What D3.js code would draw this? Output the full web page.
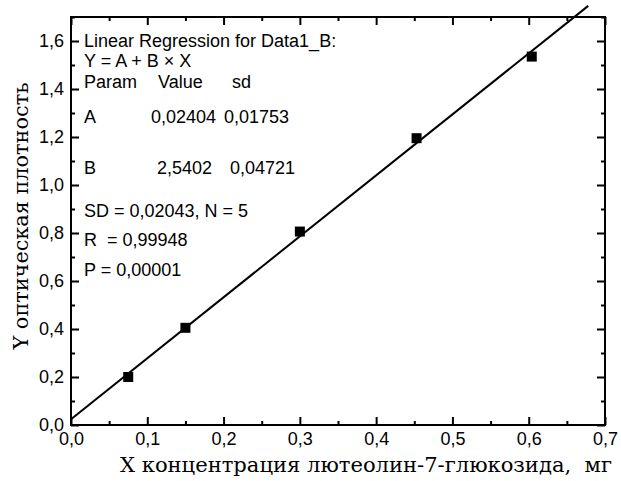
<!DOCTYPE html>
<html>
<head>
<meta charset="utf-8">
<script src="https://cdn.jsdelivr.net/npm/d3@7"></script>
<style>
    body { margin: 0; background: #fff; }
    svg { display: block; }
    text { white-space: pre; }
</style>
</head>
<body>
<div id="chart"></div>
<script>
// ----- data -----
let xValues = [0.075, 0.15, 0.3, 0.453, 0.604];
let yValues = [0.2, 0.405, 0.806, 1.195, 1.535];
let fitA = 0.02404;
let fitB = 2.5402;
let fitRange = [0, 0.678];
let xTicks = [0, 0.1, 0.2, 0.3, 0.4, 0.5, 0.6, 0.7];
let xMinor = [0.05, 0.15, 0.25, 0.35, 0.45, 0.55, 0.65];
let yTicks = [0, 0.2, 0.4, 0.6, 0.8, 1.0, 1.2, 1.4, 1.6];
let yMinor = [0.1, 0.3, 0.5, 0.7, 0.9, 1.1, 1.3, 1.5, 1.7];
let statRows = [
    ["Linear Regression for Data1_B:"],
    ["Y = A + B \u00d7 X"],
    ["Param", "Value", "sd"],
    ["A", "0,02404", "0,01753"],
    ["B", "2,5402", "0,04721"],
    ["SD = 0,02043, N = 5"],
    ["R  = 0,99948"],
    ["P = 0,00001"]
];
let xTitle = "X концентрация лютеолин-7-глюкозида,  мг";
let yTitle = "Y оптическая плотность";

// ----- layout -----
let svgWidth = 621;
let svgHeight = 481;
let margin = { top: 17, right: 16, bottom: 56, left: 71 };
let width = svgWidth - margin.left - margin.right;
let height = svgHeight - margin.top - margin.bottom;

let svg = d3.select("#chart")
    .append("svg")
    .attr("width", svgWidth)
    .attr("height", svgHeight);

let x = d3.scaleLinear().domain([0, 0.7]).range([0, width]);
let y = d3.scaleLinear().domain([0, 1.7]).range([height, 0]);

let fmt = d => d3.format(".1f")(d).replace(".", ",");

let g = svg.append("g")
    .attr("transform", `translate(${margin.left}, ${margin.top})`);

// minor ticks first, then major ticks with labels
function addAxis(axis, tx, ty, values, size, labels) {
    let a = g.append("g")
        .attr("transform", `translate(${tx}, ${ty})`)
        .call(axis.tickValues(values).tickSize(size)
            .tickFormat(labels ? fmt : "").tickPadding(labels ? 6 : 0));
    a.select(".domain").remove();
    a.selectAll("line").attr("stroke", "#000").attr("stroke-width", 2);
    a.selectAll("text")
        .attr("fill", "#000")
        .style("font-family", "'Liberation Sans', Arial, sans-serif")
        .style("font-size", "18px");
    return a;
}

addAxis(d3.axisBottom(x), 0, height, xMinor, -4, false);
addAxis(d3.axisBottom(x), 0, height, xTicks, -8, true).selectAll("text").attr("dy", "0.78em");
addAxis(d3.axisTop(x), 0, 0, xMinor, -4, false);
addAxis(d3.axisTop(x), 0, 0, xTicks, -8, false);
addAxis(d3.axisLeft(y), 0, 0, yMinor, -4, false);
addAxis(d3.axisLeft(y), 0, 0, yTicks, -8, true).selectAll("text").attr("dx", "-1");
addAxis(d3.axisRight(y), width, 0, yMinor, -4, false);
addAxis(d3.axisRight(y), width, 0, yTicks, -8, false);

// frame
g.append("rect")
    .attr("x", 0)
    .attr("y", 0)
    .attr("width", width)
    .attr("height", height)
    .attr("fill", "none")
    .attr("stroke", "#000")
    .attr("stroke-width", 2);

// regression line
let line = d3.line()
    .x(d => x(d))
    .y(d => y(fitA + fitB * d));

g.append("path")
    .datum(fitRange)
    .attr("d", line)
    .attr("fill", "none")
    .attr("stroke", "#000")
    .attr("stroke-width", 2);

// points
let size = 10;
g.selectAll("rect.pt")
    .data(xValues)
    .enter()
    .append("rect")
    .attr("class", "pt")
    .attr("x", d => x(d) - size / 2)
    .attr("y", (d, i) => y(yValues[i]) - size / 2)
    .attr("width", size)
    .attr("height", size)
    .attr("fill", "#000");

// stats box text
let rowY = [30, 50, 71, 106, 157, 200, 229, 259];
let colX = [13, 80, 153];
let colXB = [13, 86, 159];
let stats = g.append("g")
    .style("font-family", "'Liberation Sans', Arial, sans-serif")
    .style("font-size", "18px")
    .attr("fill", "#000");

statRows.forEach((row, i) => {
    let cols = i === 2 ? [13, 87, 161] : i === 4 ? colXB : colX;
    row.forEach((t, j) => {
        stats.append("text")
            .attr("x", cols[j])
            .attr("y", rowY[i])
            .text(t);
    });
});

// axis titles
let serif = "'DejaVu Serif', 'Liberation Serif', serif";

svg.append("text")
    .attr("x", 366)
    .attr("y", 472)
    .attr("text-anchor", "middle")
    .attr("textLength", 492)
    .attr("lengthAdjust", "spacingAndGlyphs")
    .style("font-family", serif)
    .style("font-size", "21px")
    .text(xTitle);

svg.append("text")
    .attr("transform", `translate(28, 216) rotate(-90)`)
    .attr("text-anchor", "middle")
    .attr("textLength", 267)
    .attr("lengthAdjust", "spacingAndGlyphs")
    .style("font-family", serif)
    .style("font-size", "21px")
    .text(yTitle);
</script>
</body>
</html>
